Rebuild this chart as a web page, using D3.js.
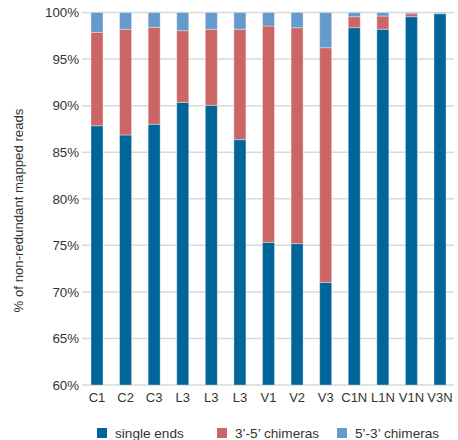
<!DOCTYPE html>
<html><head><meta charset="utf-8">
<script src="https://cdn.jsdelivr.net/npm/d3@7"></script>
<style>body{margin:0;background:#fff;}svg{display:block;font-family:"Liberation Sans",Arial,sans-serif;}</style>
</head><body>
<script>
const categories = ["C1","C2","C3","L3","L3","L3","V1","V2","V3","C1N","L1N","V1N","V3N"];
const singleEnds = [87.84,86.85,88.0,90.35,90.03,86.34,75.32,75.18,71.02,98.37,98.2,99.55,99.87];
const chim35 = [10.03,11.35,10.4,7.7,8.17,11.86,23.23,23.19,25.2,1.18,1.42,0.32,0.02];
const chim53 = [2.13,1.8,1.6,1.95,1.8,1.8,1.45,1.63,3.78,0.45,0.38,0.13,0.11];
const seriesNames = ["single ends","3\u2019-5\u2019 chimeras","5\u2019-3\u2019 chimeras"];
const yTicks = [60,65,70,75,80,85,90,95,100];
const colors = ["#006699","#cc6666","#6699cc"];

const W=458,H=440;
const svg=d3.select("body").append("svg").attr("width",W).attr("height",H);
const x=d3.scaleBand().domain(d3.range(categories.length)).range([82.7,454.3]).paddingInner(0.58).paddingOuter(0.29);
const y=d3.scaleLinear().domain([60,100]).range([385,12.5]);

const rows=categories.map((c,i)=>({i,c,s0:singleEnds[i],s1:chim35[i],s2:chim53[i]}));
const stack=d3.stack().keys(["s0","s1","s2"]).offset(d3.stackOffsetExpand)(rows);

// grid
svg.append("g").selectAll("line").data(yTicks).join("line")
  .attr("x1",82).attr("x2",454).attr("y1",d=>y(d)).attr("y2",d=>y(d))
  .attr("stroke","#d9d9d9").attr("stroke-width",1.5);

// y axis labels
const yAxis=d3.axisLeft(y).tickValues(yTicks).tickFormat(d=>d+"%").tickSize(0).tickPadding(0);
const ya=svg.append("g").attr("transform","translate(79,0)").call(yAxis);
ya.select(".domain").remove();
ya.selectAll("text").attr("font-size",13.3).attr("fill","#333").attr("font-family","Liberation Sans, Arial, sans-serif");

// bars
svg.append("defs").append("clipPath").attr("id","clip").append("rect").attr("x",0).attr("y",12).attr("width",W).attr("height",373.5);
svg.append("g").attr("clip-path","url(#clip)").selectAll("g").data(stack).join("g")
  .attr("fill",(d,k)=>colors[k])
  .selectAll("rect").data(d=>d).join("rect")
  .attr("x",(d,j)=>x(j)).attr("width",x.bandwidth())
  .attr("y",d=>y(Math.max(60,d[1]*100)))
  .attr("height",d=>Math.max(0,y(Math.max(60,d[0]*100))-y(Math.max(60,d[1]*100))))
  .attr("stroke","rgba(255,255,255,0.35)").attr("stroke-width",1);

// x axis labels
const xAxis=d3.axisBottom(x).tickFormat(i=>categories[i]).tickSize(0).tickPadding(0);
const xa=svg.append("g").attr("transform","translate(0,393)").call(xAxis);
xa.select(".domain").remove();
xa.selectAll("text").attr("font-size",13).attr("fill","#333").attr("dy","0.71em").attr("font-family","Liberation Sans, Arial, sans-serif");

// y title
svg.append("text").attr("transform","translate(23,210.5) rotate(-90)").attr("text-anchor","middle")
  .attr("font-size",13.2).attr("fill","#333").text("% of non-redundant mapped reads");

// legend
const lx=[97,217,337];
const lg=svg.append("g").selectAll("g").data(seriesNames).join("g").attr("transform",(d,k)=>`translate(${lx[k]},428)`);
lg.append("rect").attr("width",10).attr("height",10).attr("fill",(d,k)=>colors[k]);
lg.append("text").attr("x",18).attr("y",9.5).attr("font-size",13.6).attr("fill","#333").text(d=>d);
</script>
</body></html>
